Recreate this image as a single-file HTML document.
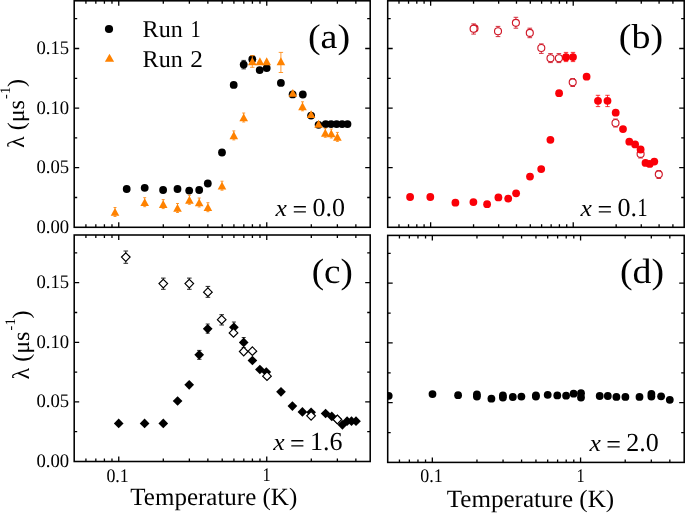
<!DOCTYPE html>
<html><head><meta charset="utf-8"><style>
html,body{margin:0;padding:0;background:#fff;width:685px;height:513px;overflow:hidden}
svg{display:block}
text{font-family:"Liberation Serif",serif;fill:#000}
</style></head><body>
<svg width="685" height="513" viewBox="0 0 685 513" font-family='"Liberation Serif", serif'>
<rect width="685" height="513" fill="#fff"/>
<defs>
<clipPath id="ca"><rect x="74.20" y="0.80" width="296.00" height="226.50"/></clipPath>
<clipPath id="cb"><rect x="387.70" y="0.80" width="296.50" height="226.50"/></clipPath>
<clipPath id="cc"><rect x="74.20" y="235.00" width="296.00" height="226.50"/></clipPath>
<clipPath id="cd"><rect x="387.70" y="235.40" width="296.50" height="227.00"/></clipPath>
</defs>
<g clip-path="url(#ca)">
<path d="M243.70 60.40L243.70 68.90M241.50 60.40L245.90 60.40M241.50 68.90L245.90 68.90" stroke="#000" stroke-width="0.80" fill="none"/>
<circle cx="126.70" cy="189.00" r="3.90" fill="#000"/>
<circle cx="144.70" cy="187.80" r="3.90" fill="#000"/>
<circle cx="163.10" cy="190.00" r="3.90" fill="#000"/>
<circle cx="177.50" cy="189.00" r="3.90" fill="#000"/>
<circle cx="189.20" cy="190.60" r="3.90" fill="#000"/>
<circle cx="199.20" cy="190.00" r="3.90" fill="#000"/>
<circle cx="207.80" cy="183.50" r="3.90" fill="#000"/>
<circle cx="222.00" cy="152.50" r="3.90" fill="#000"/>
<circle cx="233.70" cy="84.90" r="3.90" fill="#000"/>
<circle cx="243.70" cy="64.60" r="3.90" fill="#000"/>
<circle cx="252.30" cy="59.20" r="3.90" fill="#000"/>
<circle cx="259.70" cy="70.10" r="3.90" fill="#000"/>
<circle cx="266.70" cy="68.10" r="3.90" fill="#000"/>
<circle cx="280.90" cy="82.90" r="3.90" fill="#000"/>
<circle cx="292.60" cy="94.40" r="3.90" fill="#000"/>
<circle cx="302.80" cy="94.50" r="3.90" fill="#000"/>
<circle cx="311.10" cy="115.60" r="3.90" fill="#000"/>
<circle cx="318.60" cy="124.80" r="3.90" fill="#000"/>
<circle cx="325.70" cy="124.10" r="3.90" fill="#000"/>
<circle cx="331.10" cy="124.10" r="3.90" fill="#000"/>
<circle cx="336.60" cy="124.10" r="3.90" fill="#000"/>
<circle cx="342.10" cy="124.10" r="3.90" fill="#000"/>
<circle cx="347.50" cy="124.10" r="3.90" fill="#000"/>
<path d="M280.90 52.40L280.90 72.50M278.70 52.40L283.10 52.40M278.70 72.50L283.10 72.50" stroke="#ff8200" stroke-width="0.80" fill="none"/>
<path d="M252.30 55.60L252.30 67.30M250.10 55.60L254.50 55.60M250.10 67.30L254.50 67.30" stroke="#ff8200" stroke-width="0.80" fill="none"/>
<path d="M115.00 207.50L115.00 216.50M113.50 207.50L116.50 207.50M113.50 216.50L116.50 216.50" stroke="#ff8200" stroke-width="0.80" fill="none"/>
<path d="M144.70 197.70L144.70 206.70M143.20 197.70L146.20 197.70M143.20 206.70L146.20 206.70" stroke="#ff8200" stroke-width="0.80" fill="none"/>
<path d="M163.20 199.60L163.20 208.60M161.70 199.60L164.70 199.60M161.70 208.60L164.70 208.60" stroke="#ff8200" stroke-width="0.80" fill="none"/>
<path d="M177.50 203.50L177.50 212.50M176.00 203.50L179.00 203.50M176.00 212.50L179.00 212.50" stroke="#ff8200" stroke-width="0.80" fill="none"/>
<path d="M189.40 195.30L189.40 204.30M187.90 195.30L190.90 195.30M187.90 204.30L190.90 204.30" stroke="#ff8200" stroke-width="0.80" fill="none"/>
<path d="M199.20 198.00L199.20 207.00M197.70 198.00L200.70 198.00M197.70 207.00L200.70 207.00" stroke="#ff8200" stroke-width="0.80" fill="none"/>
<path d="M207.90 202.70L207.90 211.70M206.40 202.70L209.40 202.70M206.40 211.70L209.40 211.70" stroke="#ff8200" stroke-width="0.80" fill="none"/>
<path d="M222.00 181.20L222.00 190.20M220.50 181.20L223.50 181.20M220.50 190.20L223.50 190.20" stroke="#ff8200" stroke-width="0.80" fill="none"/>
<path d="M233.80 130.90L233.80 139.90M232.30 130.90L235.30 130.90M232.30 139.90L235.30 139.90" stroke="#ff8200" stroke-width="0.80" fill="none"/>
<path d="M243.70 113.00L243.70 122.00M242.20 113.00L245.20 113.00M242.20 122.00L245.20 122.00" stroke="#ff8200" stroke-width="0.80" fill="none"/>
<path d="M302.50 101.80L302.50 110.80M301.00 101.80L304.00 101.80M301.00 110.80L304.00 110.80" stroke="#ff8200" stroke-width="0.80" fill="none"/>
<path d="M325.30 128.30L325.30 137.30M323.80 128.30L326.80 128.30M323.80 137.30L326.80 137.30" stroke="#ff8200" stroke-width="0.80" fill="none"/>
<path d="M331.30 129.00L331.30 138.00M329.80 129.00L332.80 129.00M329.80 138.00L332.80 138.00" stroke="#ff8200" stroke-width="0.80" fill="none"/>
<path d="M337.40 132.40L337.40 141.40M335.90 132.40L338.90 132.40M335.90 141.40L338.90 141.40" stroke="#ff8200" stroke-width="0.80" fill="none"/>
<path d="M115.00 207.95L119.30 215.85L110.70 215.85Z" fill="#ff8200"/>
<path d="M144.70 198.15L149.00 206.05L140.40 206.05Z" fill="#ff8200"/>
<path d="M163.20 200.05L167.50 207.95L158.90 207.95Z" fill="#ff8200"/>
<path d="M177.50 203.95L181.80 211.85L173.20 211.85Z" fill="#ff8200"/>
<path d="M189.40 195.75L193.70 203.65L185.10 203.65Z" fill="#ff8200"/>
<path d="M199.20 198.45L203.50 206.35L194.90 206.35Z" fill="#ff8200"/>
<path d="M207.90 203.15L212.20 211.05L203.60 211.05Z" fill="#ff8200"/>
<path d="M222.00 181.65L226.30 189.55L217.70 189.55Z" fill="#ff8200"/>
<path d="M233.80 131.35L238.10 139.25L229.50 139.25Z" fill="#ff8200"/>
<path d="M243.70 113.45L248.00 121.35L239.40 121.35Z" fill="#ff8200"/>
<path d="M252.30 57.25L256.60 65.15L248.00 65.15Z" fill="#ff8200"/>
<path d="M259.90 57.25L264.20 65.15L255.60 65.15Z" fill="#ff8200"/>
<path d="M266.70 57.25L271.00 65.15L262.40 65.15Z" fill="#ff8200"/>
<path d="M280.90 57.25L285.20 65.15L276.60 65.15Z" fill="#ff8200"/>
<path d="M292.80 88.95L297.10 96.85L288.50 96.85Z" fill="#ff8200"/>
<path d="M302.50 102.25L306.80 110.15L298.20 110.15Z" fill="#ff8200"/>
<path d="M311.10 110.15L315.40 118.05L306.80 118.05Z" fill="#ff8200"/>
<path d="M318.60 119.85L322.90 127.75L314.30 127.75Z" fill="#ff8200"/>
<path d="M325.30 128.75L329.60 136.65L321.00 136.65Z" fill="#ff8200"/>
<path d="M331.30 129.45L335.60 137.35L327.00 137.35Z" fill="#ff8200"/>
<path d="M337.40 132.85L341.70 140.75L333.10 140.75Z" fill="#ff8200"/>
</g>
<g clip-path="url(#cb)">
<circle cx="474.50" cy="28.40" r="3.50" fill="#fff" stroke="#d01828" stroke-width="1.15"/>
<path d="M473.60 23.90L473.60 34.10M471.30 23.90L475.90 23.90M471.30 34.10L475.90 34.10" stroke="#d01828" stroke-width="0.90" fill="none"/>
<circle cx="473.60" cy="28.70" r="3.50" fill="#fff" stroke="#d01828" stroke-width="1.15"/>
<path d="M498.00 26.40L498.00 36.60M495.70 26.40L500.30 26.40M495.70 36.60L500.30 36.60" stroke="#d01828" stroke-width="0.90" fill="none"/>
<circle cx="498.00" cy="31.20" r="3.50" fill="#fff" stroke="#d01828" stroke-width="1.15"/>
<path d="M515.90 17.30L515.90 28.20M513.60 17.30L518.20 17.30M513.60 28.20L518.20 28.20" stroke="#d01828" stroke-width="0.90" fill="none"/>
<circle cx="515.90" cy="22.80" r="3.50" fill="#fff" stroke="#d01828" stroke-width="1.15"/>
<path d="M529.80 28.20L529.80 37.70M527.50 28.20L532.10 28.20M527.50 37.70L532.10 37.70" stroke="#d01828" stroke-width="0.90" fill="none"/>
<circle cx="529.80" cy="32.90" r="3.50" fill="#fff" stroke="#d01828" stroke-width="1.15"/>
<path d="M541.30 43.90L541.30 53.40M539.00 43.90L543.60 43.90M539.00 53.40L543.60 53.40" stroke="#d01828" stroke-width="0.90" fill="none"/>
<circle cx="541.30" cy="48.00" r="3.50" fill="#fff" stroke="#d01828" stroke-width="1.15"/>
<path d="M550.50 53.60L550.50 62.60M548.20 53.60L552.80 53.60M548.20 62.60L552.80 62.60" stroke="#d01828" stroke-width="0.90" fill="none"/>
<circle cx="550.50" cy="58.20" r="3.50" fill="#fff" stroke="#d01828" stroke-width="1.15"/>
<path d="M558.90 53.60L558.90 62.60M556.60 53.60L561.20 53.60M556.60 62.60L561.20 62.60" stroke="#d01828" stroke-width="0.90" fill="none"/>
<circle cx="558.90" cy="58.20" r="3.50" fill="#fff" stroke="#d01828" stroke-width="1.15"/>
<path d="M572.70 78.50L572.70 86.50M570.40 78.50L575.00 78.50M570.40 86.50L575.00 86.50" stroke="#d01828" stroke-width="0.90" fill="none"/>
<circle cx="572.70" cy="82.30" r="3.50" fill="#fff" stroke="#d01828" stroke-width="1.15"/>
<path d="M615.50 119.00L615.50 127.00M613.20 119.00L617.80 119.00M613.20 127.00L617.80 127.00" stroke="#d01828" stroke-width="0.90" fill="none"/>
<circle cx="615.50" cy="123.00" r="3.50" fill="#fff" stroke="#d01828" stroke-width="1.15"/>
<path d="M640.60 150.00L640.60 158.00M638.30 150.00L642.90 150.00M638.30 158.00L642.90 158.00" stroke="#d01828" stroke-width="0.90" fill="none"/>
<circle cx="640.60" cy="153.90" r="3.50" fill="#fff" stroke="#d01828" stroke-width="1.15"/>
<path d="M658.80 170.50L658.80 178.50M656.50 170.50L661.10 170.50M656.50 178.50L661.10 178.50" stroke="#d01828" stroke-width="0.90" fill="none"/>
<circle cx="658.80" cy="174.30" r="3.50" fill="#fff" stroke="#d01828" stroke-width="1.15"/>
<path d="M566.00 52.40L566.00 61.60M563.80 52.40L568.20 52.40M563.80 61.60L568.20 61.60" stroke="#fa0008" stroke-width="0.80" fill="none"/>
<path d="M573.00 52.40L573.00 61.60M570.80 52.40L575.20 52.40M570.80 61.60L575.20 61.60" stroke="#fa0008" stroke-width="0.80" fill="none"/>
<path d="M598.00 95.30L598.00 106.60M595.80 95.30L600.20 95.30M595.80 106.60L600.20 106.60" stroke="#fa0008" stroke-width="0.80" fill="none"/>
<path d="M607.50 95.30L607.50 106.60M605.30 95.30L609.70 95.30M605.30 106.60L609.70 106.60" stroke="#fa0008" stroke-width="0.80" fill="none"/>
<circle cx="410.10" cy="197.00" r="3.90" fill="#fa0008"/>
<circle cx="430.30" cy="197.00" r="3.90" fill="#fa0008"/>
<circle cx="455.40" cy="202.70" r="3.90" fill="#fa0008"/>
<circle cx="473.40" cy="202.10" r="3.90" fill="#fa0008"/>
<circle cx="487.10" cy="204.20" r="3.90" fill="#fa0008"/>
<circle cx="498.40" cy="197.40" r="3.90" fill="#fa0008"/>
<circle cx="508.20" cy="198.60" r="3.90" fill="#fa0008"/>
<circle cx="516.10" cy="193.30" r="3.90" fill="#fa0008"/>
<circle cx="530.00" cy="176.60" r="3.90" fill="#fa0008"/>
<circle cx="541.20" cy="169.10" r="3.90" fill="#fa0008"/>
<circle cx="550.40" cy="139.80" r="3.90" fill="#fa0008"/>
<circle cx="559.10" cy="93.20" r="3.90" fill="#fa0008"/>
<circle cx="566.00" cy="57.20" r="3.90" fill="#fa0008"/>
<circle cx="573.00" cy="57.10" r="3.90" fill="#fa0008"/>
<circle cx="586.60" cy="76.70" r="3.90" fill="#fa0008"/>
<circle cx="598.00" cy="100.80" r="3.90" fill="#fa0008"/>
<circle cx="607.50" cy="100.80" r="3.90" fill="#fa0008"/>
<circle cx="615.70" cy="112.70" r="3.90" fill="#fa0008"/>
<circle cx="623.00" cy="129.10" r="3.90" fill="#fa0008"/>
<circle cx="629.30" cy="141.70" r="3.90" fill="#fa0008"/>
<circle cx="635.10" cy="144.40" r="3.90" fill="#fa0008"/>
<circle cx="640.60" cy="149.50" r="3.90" fill="#fa0008"/>
<circle cx="645.50" cy="162.90" r="3.90" fill="#fa0008"/>
<circle cx="649.70" cy="163.90" r="3.90" fill="#fa0008"/>
<circle cx="654.30" cy="161.60" r="3.90" fill="#fa0008"/>
</g>
<g clip-path="url(#cc)">
<path d="M125.80 251.00L125.80 263.30M123.50 251.00L128.10 251.00M123.50 263.30L128.10 263.30" stroke="#000" stroke-width="0.85" fill="none"/>
<path d="M163.30 278.10L163.30 289.30M161.00 278.10L165.60 278.10M161.00 289.30L165.60 289.30" stroke="#000" stroke-width="0.85" fill="none"/>
<path d="M189.30 278.10L189.30 289.30M187.00 278.10L191.60 278.10M187.00 289.30L191.60 289.30" stroke="#000" stroke-width="0.85" fill="none"/>
<path d="M207.90 286.40L207.90 297.30M205.60 286.40L210.20 286.40M205.60 297.30L210.20 297.30" stroke="#000" stroke-width="0.85" fill="none"/>
<path d="M221.70 314.70L221.70 325.00M219.40 314.70L224.00 314.70M219.40 325.00L224.00 325.00" stroke="#000" stroke-width="0.85" fill="none"/>
<path d="M207.70 324.00L207.70 333.20M205.70 324.00L209.70 324.00M205.70 333.20L209.70 333.20" stroke="#000" stroke-width="0.80" fill="none"/>
<path d="M199.30 350.40L199.30 359.30M197.10 350.40L201.50 350.40M197.10 359.30L201.50 359.30" stroke="#000" stroke-width="0.80" fill="none"/>
<path d="M233.90 322.00L233.90 332.50M231.90 322.00L235.90 322.00M231.90 332.50L235.90 332.50" stroke="#000" stroke-width="0.80" fill="none"/>
<path d="M243.70 337.50L243.70 347.50M241.70 337.50L245.70 337.50M241.70 347.50L245.70 347.50" stroke="#000" stroke-width="0.80" fill="none"/>
<path d="M118.70 418.55L123.55 423.40L118.70 428.25L113.85 423.40Z" fill="#000"/>
<path d="M144.60 418.55L149.45 423.40L144.60 428.25L139.75 423.40Z" fill="#000"/>
<path d="M163.30 418.55L168.15 423.40L163.30 428.25L158.45 423.40Z" fill="#000"/>
<path d="M177.60 396.15L182.45 401.00L177.60 405.85L172.75 401.00Z" fill="#000"/>
<path d="M189.20 379.95L194.05 384.80L189.20 389.65L184.35 384.80Z" fill="#000"/>
<path d="M199.20 349.95L204.05 354.80L199.20 359.65L194.35 354.80Z" fill="#000"/>
<path d="M207.70 323.95L212.55 328.80L207.70 333.65L202.85 328.80Z" fill="#000"/>
<path d="M233.90 322.45L238.75 327.30L233.90 332.15L229.05 327.30Z" fill="#000"/>
<path d="M243.70 337.55L248.55 342.40L243.70 347.25L238.85 342.40Z" fill="#000"/>
<path d="M252.40 355.65L257.25 360.50L252.40 365.35L247.55 360.50Z" fill="#000"/>
<path d="M259.90 364.65L264.75 369.50L259.90 374.35L255.05 369.50Z" fill="#000"/>
<path d="M266.30 367.15L271.15 372.00L266.30 376.85L261.45 372.00Z" fill="#000"/>
<path d="M281.00 386.95L285.85 391.80L281.00 396.65L276.15 391.80Z" fill="#000"/>
<path d="M292.40 401.25L297.25 406.10L292.40 410.95L287.55 406.10Z" fill="#000"/>
<path d="M302.40 407.05L307.25 411.90L302.40 416.75L297.55 411.90Z" fill="#000"/>
<path d="M311.10 407.45L315.95 412.30L311.10 417.15L306.25 412.30Z" fill="#000"/>
<path d="M325.60 408.65L330.45 413.50L325.60 418.35L320.75 413.50Z" fill="#000"/>
<path d="M331.80 411.55L336.65 416.40L331.80 421.25L326.95 416.40Z" fill="#000"/>
<path d="M337.30 414.45L342.15 419.30L337.30 424.15L332.45 419.30Z" fill="#000"/>
<path d="M342.40 419.95L347.25 424.80L342.40 429.65L337.55 424.80Z" fill="#000"/>
<path d="M347.10 416.35L351.95 421.20L347.10 426.05L342.25 421.20Z" fill="#000"/>
<path d="M351.50 416.35L356.35 421.20L351.50 426.05L346.65 421.20Z" fill="#000"/>
<path d="M356.00 416.35L360.85 421.20L356.00 426.05L351.15 421.20Z" fill="#000"/>
<path d="M125.80 252.80L130.10 257.10L125.80 261.40L121.50 257.10Z" fill="#fff" stroke="#000" stroke-width="1.2"/>
<path d="M163.30 279.30L167.60 283.60L163.30 287.90L159.00 283.60Z" fill="#fff" stroke="#000" stroke-width="1.2"/>
<path d="M189.30 279.30L193.60 283.60L189.30 287.90L185.00 283.60Z" fill="#fff" stroke="#000" stroke-width="1.2"/>
<path d="M207.90 287.90L212.20 292.20L207.90 296.50L203.60 292.20Z" fill="#fff" stroke="#000" stroke-width="1.2"/>
<path d="M221.70 315.40L226.00 319.70L221.70 324.00L217.40 319.70Z" fill="#fff" stroke="#000" stroke-width="1.2"/>
<path d="M233.50 328.60L237.80 332.90L233.50 337.20L229.20 332.90Z" fill="#fff" stroke="#000" stroke-width="1.2"/>
<path d="M243.70 347.20L248.00 351.50L243.70 355.80L239.40 351.50Z" fill="#fff" stroke="#000" stroke-width="1.2"/>
<path d="M252.40 346.90L256.70 351.20L252.40 355.50L248.10 351.20Z" fill="#fff" stroke="#000" stroke-width="1.2"/>
<path d="M267.00 371.90L271.30 376.20L267.00 380.50L262.70 376.20Z" fill="#fff" stroke="#000" stroke-width="1.2"/>
<path d="M311.10 411.50L315.40 415.80L311.10 420.10L306.80 415.80Z" fill="#fff" stroke="#000" stroke-width="1.2"/>
<path d="M337.40 415.20L341.70 419.50L337.40 423.80L333.10 419.50Z" fill="#fff" stroke="#000" stroke-width="1.2"/>
</g>
<g clip-path="url(#cd)">
<circle cx="388.70" cy="395.80" r="3.90" fill="#000"/>
<circle cx="432.50" cy="394.10" r="3.90" fill="#000"/>
<circle cx="458.10" cy="395.20" r="3.90" fill="#000"/>
<circle cx="476.90" cy="394.50" r="3.90" fill="#000"/>
<circle cx="476.90" cy="396.60" r="3.90" fill="#000"/>
<circle cx="491.40" cy="398.70" r="3.90" fill="#000"/>
<circle cx="502.90" cy="395.40" r="3.90" fill="#000"/>
<circle cx="502.90" cy="397.60" r="3.90" fill="#000"/>
<circle cx="512.80" cy="397.00" r="3.90" fill="#000"/>
<circle cx="521.40" cy="396.60" r="3.90" fill="#000"/>
<circle cx="535.90" cy="395.30" r="3.90" fill="#000"/>
<circle cx="535.90" cy="396.60" r="3.90" fill="#000"/>
<circle cx="547.70" cy="394.80" r="3.90" fill="#000"/>
<circle cx="557.30" cy="395.40" r="3.90" fill="#000"/>
<circle cx="566.10" cy="395.70" r="3.90" fill="#000"/>
<circle cx="573.60" cy="393.70" r="3.90" fill="#000"/>
<circle cx="581.00" cy="393.20" r="3.90" fill="#000"/>
<circle cx="581.00" cy="397.50" r="3.90" fill="#000"/>
<circle cx="599.70" cy="396.00" r="3.90" fill="#000"/>
<circle cx="607.80" cy="396.00" r="3.90" fill="#000"/>
<circle cx="616.40" cy="396.90" r="3.90" fill="#000"/>
<circle cx="625.40" cy="396.90" r="3.90" fill="#000"/>
<circle cx="639.50" cy="396.90" r="3.90" fill="#000"/>
<circle cx="651.40" cy="394.00" r="3.90" fill="#000"/>
<circle cx="651.40" cy="396.60" r="3.90" fill="#000"/>
<circle cx="661.10" cy="396.30" r="3.90" fill="#000"/>
<circle cx="669.80" cy="399.80" r="3.90" fill="#000"/>
</g>
<path d="M85.92 227.30L85.92 224.30M85.92 0.80L85.92 3.80M95.83 227.30L95.83 224.30M95.83 0.80L95.83 3.80M104.41 227.30L104.41 224.30M104.41 0.80L104.41 3.80M111.98 227.30L111.98 224.30M111.98 0.80L111.98 3.80M163.30 227.30L163.30 224.30M163.30 0.80L163.30 3.80M189.37 227.30L189.37 224.30M189.37 0.80L189.37 3.80M207.86 227.30L207.86 224.30M207.86 0.80L207.86 3.80M222.20 227.30L222.20 224.30M222.20 0.80L222.20 3.80M233.92 227.30L233.92 224.30M233.92 0.80L233.92 3.80M243.83 227.30L243.83 224.30M243.83 0.80L243.83 3.80M252.41 227.30L252.41 224.30M252.41 0.80L252.41 3.80M259.98 227.30L259.98 224.30M259.98 0.80L259.98 3.80M311.30 227.30L311.30 224.30M311.30 0.80L311.30 3.80M337.37 227.30L337.37 224.30M337.37 0.80L337.37 3.80M355.86 227.30L355.86 224.30M355.86 0.80L355.86 3.80M118.75 227.30L118.75 222.30M118.75 0.80L118.75 5.80M266.75 227.30L266.75 222.30M266.75 0.80L266.75 5.80M74.20 197.50L77.20 197.50M370.20 197.50L367.20 197.50M74.20 137.89L77.20 137.89M370.20 137.89L367.20 137.89M74.20 78.29L77.20 78.29M370.20 78.29L367.20 78.29M74.20 18.68L77.20 18.68M370.20 18.68L367.20 18.68M74.20 167.69L79.20 167.69M370.20 167.69L365.20 167.69M74.20 108.09L79.20 108.09M370.20 108.09L365.20 108.09M74.20 48.48L79.20 48.48M370.20 48.48L365.20 48.48" stroke="#000" stroke-width="1.30" fill="none"/>
<rect x="74.20" y="0.80" width="296.00" height="226.50" fill="none" stroke="#000" stroke-width="1.55"/>
<path d="M398.99 227.30L398.99 224.30M398.99 0.80L398.99 3.80M408.54 227.30L408.54 224.30M408.54 0.80L408.54 3.80M416.81 227.30L416.81 224.30M416.81 0.80L416.81 3.80M424.10 227.30L424.10 224.30M424.10 0.80L424.10 3.80M473.56 227.30L473.56 224.30M473.56 0.80L473.56 3.80M498.67 227.30L498.67 224.30M498.67 0.80L498.67 3.80M516.48 227.30L516.48 224.30M516.48 0.80L516.48 3.80M530.30 227.30L530.30 224.30M530.30 0.80L530.30 3.80M541.60 227.30L541.60 224.30M541.60 0.80L541.60 3.80M551.14 227.30L551.14 224.30M551.14 0.80L551.14 3.80M559.41 227.30L559.41 224.30M559.41 0.80L559.41 3.80M566.71 227.30L566.71 224.30M566.71 0.80L566.71 3.80M616.16 227.30L616.16 224.30M616.16 0.80L616.16 3.80M641.27 227.30L641.27 224.30M641.27 0.80L641.27 3.80M659.09 227.30L659.09 224.30M659.09 0.80L659.09 3.80M672.91 227.30L672.91 224.30M672.91 0.80L672.91 3.80M430.63 227.30L430.63 222.30M430.63 0.80L430.63 5.80M573.23 227.30L573.23 222.30M573.23 0.80L573.23 5.80M387.70 197.50L390.70 197.50M684.20 197.50L681.20 197.50M387.70 137.89L390.70 137.89M684.20 137.89L681.20 137.89M387.70 78.29L390.70 78.29M684.20 78.29L681.20 78.29M387.70 18.68L390.70 18.68M684.20 18.68L681.20 18.68M387.70 167.69L392.70 167.69M684.20 167.69L679.20 167.69M387.70 108.09L392.70 108.09M684.20 108.09L679.20 108.09M387.70 48.48L392.70 48.48M684.20 48.48L679.20 48.48" stroke="#000" stroke-width="1.30" fill="none"/>
<rect x="387.70" y="0.80" width="296.50" height="226.50" fill="none" stroke="#000" stroke-width="1.55"/>
<path d="M85.92 461.50L85.92 458.50M85.92 235.00L85.92 238.00M95.83 461.50L95.83 458.50M95.83 235.00L95.83 238.00M104.41 461.50L104.41 458.50M104.41 235.00L104.41 238.00M111.98 461.50L111.98 458.50M111.98 235.00L111.98 238.00M163.30 461.50L163.30 458.50M163.30 235.00L163.30 238.00M189.37 461.50L189.37 458.50M189.37 235.00L189.37 238.00M207.86 461.50L207.86 458.50M207.86 235.00L207.86 238.00M222.20 461.50L222.20 458.50M222.20 235.00L222.20 238.00M233.92 461.50L233.92 458.50M233.92 235.00L233.92 238.00M243.83 461.50L243.83 458.50M243.83 235.00L243.83 238.00M252.41 461.50L252.41 458.50M252.41 235.00L252.41 238.00M259.98 461.50L259.98 458.50M259.98 235.00L259.98 238.00M311.30 461.50L311.30 458.50M311.30 235.00L311.30 238.00M337.37 461.50L337.37 458.50M337.37 235.00L337.37 238.00M355.86 461.50L355.86 458.50M355.86 235.00L355.86 238.00M118.75 461.50L118.75 456.50M118.75 235.00L118.75 240.00M266.75 461.50L266.75 456.50M266.75 235.00L266.75 240.00M74.20 431.70L77.20 431.70M370.20 431.70L367.20 431.70M74.20 372.09L77.20 372.09M370.20 372.09L367.20 372.09M74.20 312.49L77.20 312.49M370.20 312.49L367.20 312.49M74.20 252.88L77.20 252.88M370.20 252.88L367.20 252.88M74.20 401.89L79.20 401.89M370.20 401.89L365.20 401.89M74.20 342.29L79.20 342.29M370.20 342.29L365.20 342.29M74.20 282.68L79.20 282.68M370.20 282.68L365.20 282.68" stroke="#000" stroke-width="1.30" fill="none"/>
<rect x="74.20" y="235.00" width="296.00" height="226.50" fill="none" stroke="#000" stroke-width="1.55"/>
<path d="M399.44 462.40L399.44 459.40M399.44 235.40L399.44 238.40M409.36 462.40L409.36 459.40M409.36 235.40L409.36 238.40M417.96 462.40L417.96 459.40M417.96 235.40L417.96 238.40M425.54 462.40L425.54 459.40M425.54 235.40L425.54 238.40M476.96 462.40L476.96 459.40M476.96 235.40L476.96 238.40M503.06 462.40L503.06 459.40M503.06 235.40L503.06 238.40M521.58 462.40L521.58 459.40M521.58 235.40L521.58 238.40M535.95 462.40L535.95 459.40M535.95 235.40L535.95 238.40M547.69 462.40L547.69 459.40M547.69 235.40L547.69 238.40M557.61 462.40L557.61 459.40M557.61 235.40L557.61 238.40M566.21 462.40L566.21 459.40M566.21 235.40L566.21 238.40M573.79 462.40L573.79 459.40M573.79 235.40L573.79 238.40M625.21 462.40L625.21 459.40M625.21 235.40L625.21 238.40M651.31 462.40L651.31 459.40M651.31 235.40L651.31 238.40M669.83 462.40L669.83 459.40M669.83 235.40L669.83 238.40M432.33 462.40L432.33 457.40M432.33 235.40L432.33 240.40M580.58 462.40L580.58 457.40M580.58 235.40L580.58 240.40M387.70 432.53L390.70 432.53M684.20 432.53L681.20 432.53M387.70 372.79L390.70 372.79M684.20 372.79L681.20 372.79M387.70 313.06L390.70 313.06M684.20 313.06L681.20 313.06M387.70 253.32L390.70 253.32M684.20 253.32L681.20 253.32M387.70 402.66L392.70 402.66M684.20 402.66L679.20 402.66M387.70 342.93L392.70 342.93M684.20 342.93L679.20 342.93M387.70 283.19L392.70 283.19M684.20 283.19L679.20 283.19" stroke="#000" stroke-width="1.30" fill="none"/>
<rect x="387.70" y="235.40" width="296.50" height="227.00" fill="none" stroke="#000" stroke-width="1.55"/>
<circle cx="109.00" cy="29.00" r="4.10" fill="#000"/>
<path d="M109.50 53.75L114.10 61.85L104.90 61.85Z" fill="#ff8200"/>
<g opacity="0.999" text-rendering="geometricPrecision">
<text transform="translate(36.43 232.80) scale(0.9700 1)" font-size="19.25" >0.00</text>
<text transform="translate(36.45 173.19) scale(0.9700 1)" font-size="19.25" >0.05</text>
<text transform="translate(36.43 113.59) scale(0.9700 1)" font-size="19.25" >0.10</text>
<text transform="translate(36.45 53.98) scale(0.9700 1)" font-size="19.25" >0.15</text>
<text transform="translate(36.43 467.00) scale(0.9700 1)" font-size="19.25" >0.00</text>
<text transform="translate(36.45 407.39) scale(0.9700 1)" font-size="19.25" >0.05</text>
<text transform="translate(36.43 347.79) scale(0.9700 1)" font-size="19.25" >0.10</text>
<text transform="translate(36.45 288.18) scale(0.9700 1)" font-size="19.25" >0.15</text>
<text transform="translate(106.42 481.50) scale(0.9300 1)" font-size="19.25" >0.1</text>
<text transform="translate(262.46 481.40) scale(0.8500 1)" font-size="19.25" >1</text>
<text transform="translate(420.32 481.90) scale(0.9300 1)" font-size="19.25" >0.1</text>
<text transform="translate(576.46 481.70) scale(0.8500 1)" font-size="19.25" >1</text>
<text transform="translate(130.35 504.90) scale(1.0100 1)" font-size="24.75" >Temperature (K)</text>
<text transform="translate(446.75 507.30) scale(1.0130 1)" font-size="24.75" >Temperature (K)</text>
<g transform="translate(24.00 148.00) rotate(-90)"><text x="0" y="0" font-size="24">&#955; (&#956;s</text><text x="49.1" y="-13.6" font-size="14.5">-1</text><text x="61.0" y="0" font-size="24">)</text></g>
<g transform="translate(28.70 379.50) rotate(-90)"><text x="0" y="0" font-size="24">&#955; (&#956;s</text><text x="49.1" y="-13.6" font-size="14.5">-1</text><text x="61.0" y="0" font-size="24">)</text></g>
<text x="142.61" y="37.30" font-size="24.10" >Run</text>
<text x="142.61" y="67.30" font-size="24.10" >Run</text>
<text transform="translate(190.44 37.30) scale(0.8500 1)" font-size="24.10" >1</text>
<text transform="translate(190.17 66.70) scale(1.0500 1)" font-size="24.10" >2</text>
<text transform="translate(307.93 47.67) scale(1.1062 1)" font-size="34.41" >(a)</text>
<text transform="translate(618.83 48.33) scale(1.0954 1)" font-size="34.63" >(b)</text>
<text transform="translate(311.67 282.51) scale(1.0541 1)" font-size="35.18" >(c)</text>
<text transform="translate(619.94 283.41) scale(1.0756 1)" font-size="35.18" >(d)</text>
<text transform="translate(275.41 216.20) scale(1.0600 1)" font-size="24.20" font-style="italic" >x</text>
<text x="292.61" y="218.40" font-size="26.00" >=</text>
<text x="312.51" y="216.40" font-size="26.00" >0.0</text>
<text transform="translate(580.41 215.80) scale(1.0600 1)" font-size="24.20" font-style="italic" >x</text>
<text x="597.51" y="218.20" font-size="26.00" >=</text>
<text x="617.61" y="216.00" font-size="26.00" >0.</text>
<text transform="translate(637.21 216.00) scale(0.8000 1)" font-size="26.00" >1</text>
<text transform="translate(273.31 449.60) scale(1.0600 1)" font-size="24.20" font-style="italic" >x</text>
<text x="290.11" y="452.00" font-size="26.00" >=</text>
<text x="309.98" y="449.8" font-size="26">1.6</text>
<text transform="translate(589.41 450.60) scale(1.0600 1)" font-size="24.20" font-style="italic" >x</text>
<text x="606.31" y="453.20" font-size="26.00" >=</text>
<text x="626.30" y="450.8" font-size="26">2.0</text>
</g>
</svg>
</body></html>
